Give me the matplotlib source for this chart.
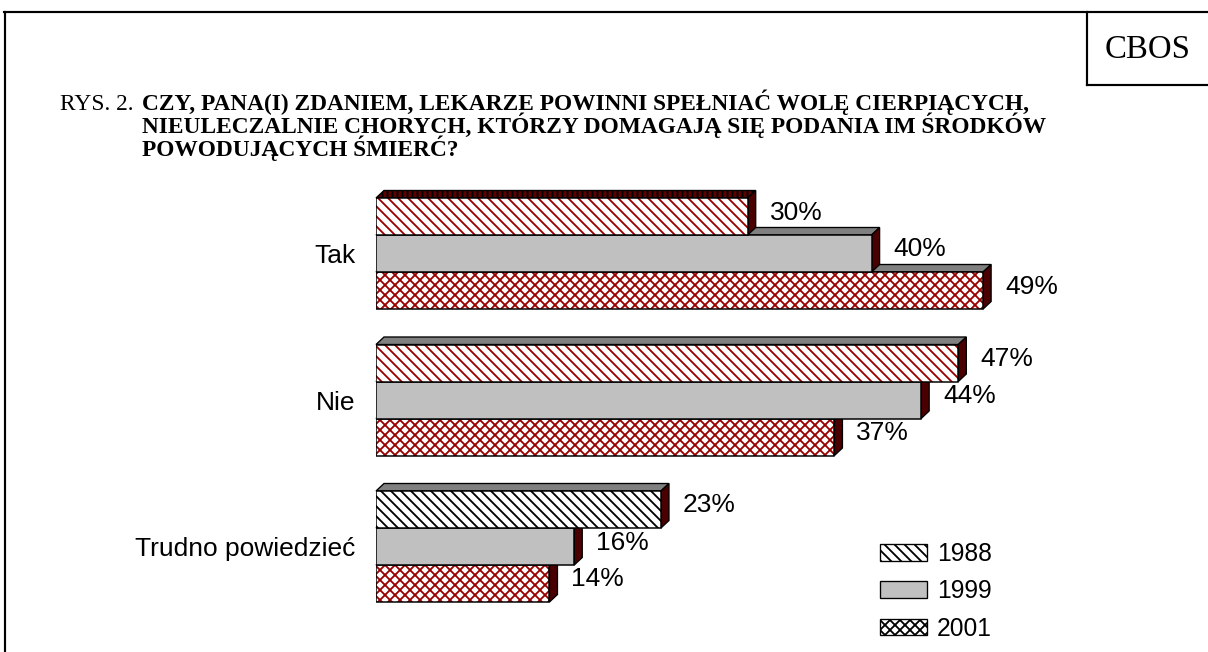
import matplotlib
matplotlib.use("Agg")
import matplotlib.pyplot as plt
from matplotlib.patches import Patch, Polygon
from matplotlib.lines import Line2D

# ---- data ----
categories = ["Tak", "Nie", "Trudno powiedzieć"]
years = ["1988", "1999", "2001"]
v1988 = [30, 47, 23]
v1999 = [40, 44, 16]
v2001 = [49, 37, 14]
series = [v1988, v1999, v2001]

title_prefix = "RYS. 2."
title_lines = ["CZY, PANA(I) ZDANIEM, LEKARZE POWINNI SPEŁNIAĆ WOLĘ CIERPIĄCYCH,",
               "NIEULECZALNIE CHORYCH, KTÓRZY DOMAGAJĄ SIĘ PODANIA IM ŚRODKÓW",
               "POWODUJĄCYCH ŚMIERĆ?"]
badge = "CBOS"

# ---- styles ----
DPI = 120
W, H = 1208, 652
DARK = "#990000"
SIDE = "#4a0000"
TOPGRAY = "#808080"
GRAY = "#c0c0c0"
SANS = "Liberation Sans"
SERIF = "Liberation Serif"
plt.rcParams["hatch.linewidth"] = 1.1

fig = plt.figure(figsize=(W / DPI, H / DPI), dpi=DPI)
fig.patch.set_facecolor("white")

def fx(px):
    return px / W

def fy(py):
    return 1 - py / H

# frame and badge box
lw_frame = 1.3
fig.add_artist(Line2D([fx(4), 1], [fy(12), fy(12)], color="black", lw=lw_frame))
fig.add_artist(Line2D([fx(5), fx(5)], [fy(12), 0], color="black", lw=lw_frame))
fig.add_artist(Line2D([fx(1087), fx(1087)], [fy(12), fy(85)], color="black", lw=lw_frame))
fig.add_artist(Line2D([fx(1087), 1], [fy(85), fy(85)], color="black", lw=lw_frame))
fig.text(fx(1148), fy(50), badge, family=SERIF, fontsize=19.7, ha="center", va="center")

# title
fig.text(fx(60), fy(110), title_prefix, family=SERIF, fontsize=14.0, va="baseline", ha="left")
for i, line in enumerate(title_lines):
    fig.text(fx(142), fy(110 + 23 * i), line, family=SERIF, fontsize=14.0,
             fontweight="bold", va="baseline", ha="left")

# chart axes
ax = fig.add_axes([fx(376), fy(619.75), (50 * 12.39) / W, 439.5 / H])
ax.set_xlim(0, 50)
ax.set_ylim(2.5, -0.5)
ax.patch.set_alpha(0)
for s in ax.spines.values():
    s.set_visible(False)
ax.set_xticks([])
ax.set_yticks(range(len(categories)), labels=categories)
ax.tick_params(axis="y", length=0, pad=12.5, labelsize=15.8)
for t in ax.get_yticklabels():
    t.set_family(SANS)

bh = 37 / 146.5          # bar thickness (data units)
dx = 8 / 12.39           # 3D depth in x (data units)
dy = 7.5 / 146.5         # 3D depth in y (data units)

hatches = ["\\\\\\\\", None, "xxxx"]
hatch_colors = [[DARK, DARK, "black"], [None, None, None], [DARK, DARK, DARK]]
top_face_first = ["#5c0000", TOPGRAY, TOPGRAY]

z = 2
for gi in range(len(categories)):
    for j in (2, 1, 0):
        v = series[j][gi]
        yc = gi + (j - 1) * bh
        yt = yc - bh / 2
        yb = yc + bh / 2
        # top face
        if j == 0:
            tc = top_face_first[gi]
            th = "||||" if gi == 0 else None
        else:
            tc, th = TOPGRAY, None
        top = Polygon([(0, yt), (v, yt), (v + dx, yt - dy), (dx, yt - dy)],
                      closed=True, facecolor=tc, edgecolor="black", lw=0.8,
                      hatch=th, zorder=z, clip_on=False)
        ax.add_patch(top)
        # side face
        side = Polygon([(v, yt), (v + dx, yt - dy), (v + dx, yb - dy), (v, yb)],
                       closed=True, facecolor=SIDE, edgecolor="black", lw=0.8,
                       zorder=z, clip_on=False)
        ax.add_patch(side)
        # front face
        if hatches[j] is None:
            ax.barh(yc, v, height=bh, color=GRAY, edgecolor="black", lw=0.9,
                    zorder=z + 0.1)
        else:
            ax.barh(yc, v, height=bh, color="white", edgecolor=hatch_colors[j][gi],
                    lw=0, hatch=hatches[j], zorder=z + 0.1)
            ax.barh(yc, v, height=bh, fill=False, edgecolor="black", lw=0.9,
                    zorder=z + 0.2)
        ax.annotate(f"{v}%", xy=(v, yc), xytext=(13.2, 2.4), textcoords="offset points",
                    ha="left", va="center", fontsize=15.8, family=SANS,
                    annotation_clip=False, zorder=z + 0.3)
        z += 1

# legend
handles = [Patch(facecolor="white", edgecolor="black", hatch="\\\\\\\\", lw=0.8),
           Patch(facecolor=GRAY, edgecolor="black", lw=0.8),
           Patch(facecolor="white", edgecolor="black", hatch="xxxx", lw=0.8)]
leg = fig.legend(handles, years, loc="upper left", bbox_to_anchor=(fx(880), fy(542)),
                 frameon=False, borderpad=0, borderaxespad=0,
                 prop={"family": SANS, "size": 14.8},
                 handlelength=1.9, handleheight=0.65, handletextpad=0.4,
                 labelspacing=0.54)

fig.savefig("out.png", dpi=DPI)
